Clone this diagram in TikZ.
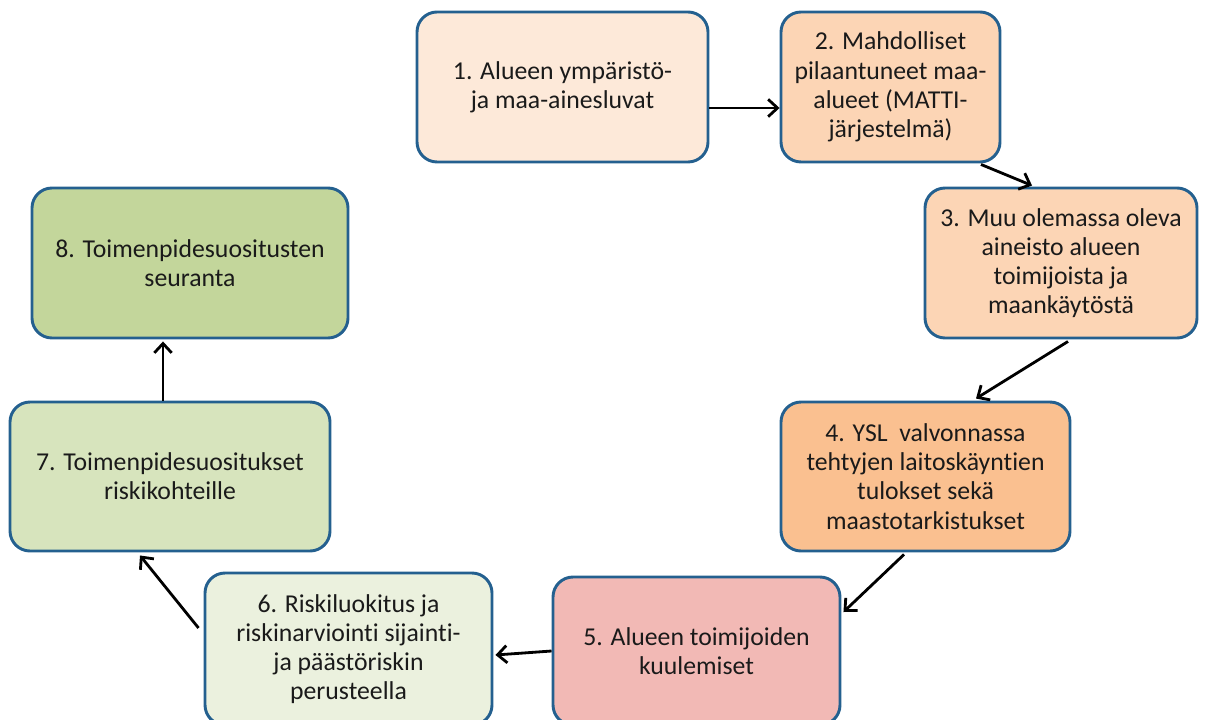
\documentclass[tikz,border=0pt]{standalone}
\usepackage{fontspec}
\setmainfont[Ligatures={NoCommon}]{Carlito}
\usetikzlibrary{arrows.meta,calc}
\definecolor{bordc}{HTML}{24608F}
\definecolor{cA}{HTML}{FDE9D9}
\definecolor{cB}{HTML}{FCD5B5}
\definecolor{cC}{HTML}{FCD5B5}
\definecolor{cD}{HTML}{FAC090}
\definecolor{cE}{HTML}{F2B9B5}
\definecolor{cF}{HTML}{EBF1DE}
\definecolor{cG}{HTML}{D7E4BD}
\definecolor{cH}{HTML}{C3D69B}
\definecolor{txt}{HTML}{1A1A1A}
\tikzset{
  stepbox/.style={draw=bordc, line width=2.2pt, rounded corners=15pt,
    align=center, inner sep=0pt, text=txt,
    font=\fontsize{19.3}{21.9}\selectfont},
  conn/.style={line width=2.1pt, -{Straight Barb[length=7pt,width=13pt,line width=2.1pt]}}
}
\begin{document}
\begin{tikzpicture}[x=0.75pt,y=-0.75pt]
\useasboundingbox (0,0) rectangle (1212,720);
\node[stepbox, fill=cA, minimum width=291*0.75pt, minimum height=150*0.75pt] (n1) at (562.5,87) {1. Alueen ympäristö-\\ja maa-ainesluvat};
\node[stepbox, fill=cB, minimum width=219*0.75pt, minimum height=150*0.75pt] (n2) at (890.5,87) {2. Mahdolliset\\pilaantuneet maa-\\alueet (MATTI-\\järjestelmä)};
\node[stepbox, fill=cC, minimum width=272*0.75pt, minimum height=150*0.75pt] (n3) at (1061,263) {3. Muu olemassa oleva\\aineisto alueen\\toimijoista ja\\maankäytöstä};
\node[stepbox, fill=cD, minimum width=289*0.75pt, minimum height=149*0.75pt] (n4) at (925.5,476.5) {4. YSL\ \ valvonnassa\\tehtyjen laitoskäyntien\\tulokset sekä\\maastotarkistukset};
\node[stepbox, fill=cE, minimum width=287*0.75pt, minimum height=148*0.75pt] (n5) at (696.5,651) {5. Alueen toimijoiden\\kuulemiset};
\node[stepbox, fill=cF, minimum width=287*0.75pt, minimum height=152*0.75pt] (n6) at (348.5,649) {6. Riskiluokitus ja\\riskinarviointi sijainti-\\ja päästöriskin\\perusteella};
\node[stepbox, fill=cG, minimum width=320*0.75pt, minimum height=149*0.75pt] (n7) at (170,476.5) {7. Toimenpidesuositukset\\riskikohteille};
\node[stepbox, fill=cH, minimum width=316*0.75pt, minimum height=150*0.75pt] (n8) at (190,263) {8. Toimenpidesuositusten\\seuranta};

\draw[conn] ($(n1.east)+(0,21)$) -- ($(n2.west)+(0,21)$);
\draw[conn] ($(n2.south)+(90.5,1)$) -- ($(n3.north)+(-29,-1)$);
\draw[conn] ($(n3.south)+(7,2)$) -- ($(n4.north)+(50.5,-2)$);
\draw[conn] ($(n4.south)+(-21.5,2)$) -- ($(n5.east)+(2,-39)$);
\draw[conn] (n5.west) -- ($(n6.east)+(2,6)$);
\draw[conn] ($(n6.west)+(-5,-21)$) -- ($(n7.south)+(-30,3)$);
\draw[conn] ($(n7.north)+(-7,0)$) -- ($(n8.south)+(-27,2)$);
\end{tikzpicture}
\end{document}
